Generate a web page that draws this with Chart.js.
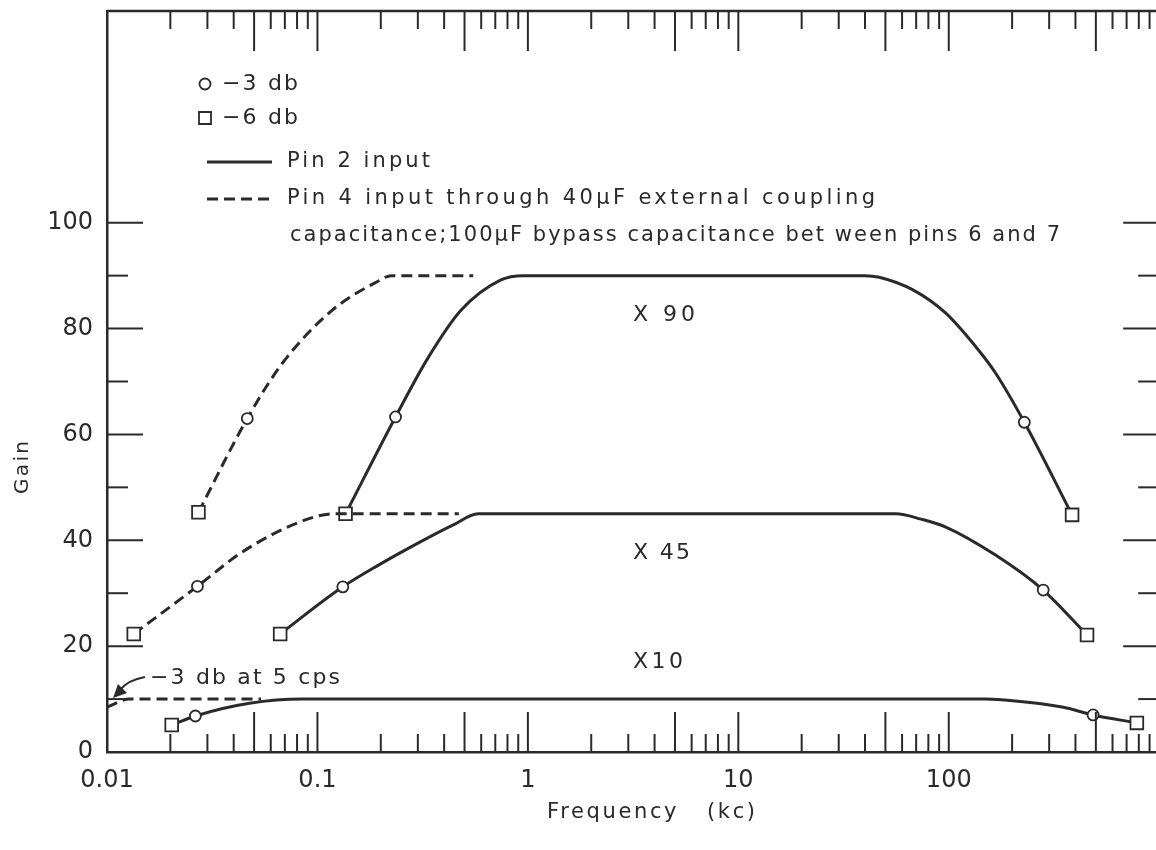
<!DOCTYPE html>
<html>
<head>
<meta charset="utf-8">
<script src="https://cdn.jsdelivr.net/npm/chart.js@4.4.0/dist/chart.umd.min.js"></script>
<style>
  html, body { margin: 0; padding: 0; background: #fff; overflow: hidden; }
  #wrap { width: 1156px; height: 850px; overflow: hidden; position: relative; }
  #chart { position: absolute; left: 0; top: 0; }
</style>
</head>
<body>
<div id="wrap"><canvas id="chart" width="1170" height="850"></canvas></div>
<script>
// ---- data (frequency in kc, gain) ----
// marks: 'ci' = -3 db point, 'sq' = -6 db point, '' = plain curve point

// X 90, pin 4 input (dashed)
const x90DashFreq  = [0.0272, 0.0464, 0.068, 0.117, 0.189, 0.225, 0.55];
const x90DashGain  = [45.3, 63, 73.4, 83.4, 88.7, 90, 90];
const x90DashMarks = ['sq', 'ci', '', '', '', '', ''];

// X 90, pin 2 input (solid)
const x90SolidFreq  = [0.136, 0.235, 0.337, 0.482, 0.745, 0.95, 40, 46.7, 67.6, 96.8, 138.6, 166.8, 228.6, 385.5];
const x90SolidGain  = [45, 63.3, 74.6, 83.5, 89.2, 90, 90, 89.7, 87.3, 82.9, 75.9, 71.6, 62.3, 44.8];
const x90SolidMarks = ['sq', 'ci', '', '', '', '', '', '', '', '', '', '', 'ci', 'sq'];

// X 45, pin 4 input (dashed)
const x45DashFreq  = [0.0134, 0.0269, 0.044, 0.0818, 0.12, 0.47];
const x45DashGain  = [22.3, 31.3, 37.8, 43.4, 45, 45];
const x45DashMarks = ['sq', 'ci', '', '', '', ''];

// X 45, pin 2 input (solid)
const x45SolidFreq  = [0.0665, 0.132, 0.195, 0.302, 0.442, 0.58, 56.1, 73.8, 96.8, 166.8, 281, 454];
const x45SolidGain  = [22.3, 31.2, 35.3, 39.5, 42.9, 45, 45, 44.0, 42.5, 37.2, 30.6, 22.1];
const x45SolidMarks = ['sq', 'ci', '', '', '', '', '', '', '', '', 'ci', 'sq'];

// X 10, pin 4 input (dashed)
const x10DashFreq  = [0.01, 0.0128, 0.054];
const x10DashGain  = [8.5, 10, 10];
const x10DashMarks = ['', '', ''];

// X 10, pin 2 input (solid)
const x10SolidFreq  = [0.0203, 0.0263, 0.0475, 0.085, 150, 201, 346, 485, 783];
const x10SolidGain  = [5.1, 6.8, 9.2, 10, 10, 9.7, 8.5, 7, 5.5];
const x10SolidMarks = ['sq', 'ci', '', '', '', '', '', 'ci', 'sq'];

// axes
const xDecades    = [0.01, 0.1, 1, 10, 100, 1000];
const xTickLabels = ['0.01', '0.1', '1', '10', '100'];
const yTickValues = [0, 20, 40, 60, 80, 100];
const yTickLabels = ['0', '20', '40', '60', '80', '100'];

const INK = '#2a2a2a';
const FONT = '"DejaVu Sans", "Liberation Sans", sans-serif';

// every 1..9 multiple per decade, for the tick marks
const xAllTicks = [];
xDecades.slice(0, -1).forEach(d => {
  for (let m = 1; m <= 9; m++) xAllTicks.push(d * m);
});
xAllTicks.push(xDecades[xDecades.length - 1]);

function series(freq, gain, marks, dashed) {
  return {
    data: freq.map((f, i) => ({ x: f, y: gain[i] })),
    borderColor: INK,
    borderWidth: 3,
    borderDash: dashed ? [11, 6] : [],
    cubicInterpolationMode: 'monotone',
    fill: false,
    pointStyle: marks.map(m => m === 'sq' ? 'rect' : 'circle'),
    pointRadius: marks.map(m => m === 'sq' ? 9 : m === 'ci' ? 5.5 : 0),
    pointBackgroundColor: '#fff',
    pointBorderColor: INK,
    pointBorderWidth: 1.8
  };
}

// text squeezed/stretched to the width it has in the picture
function text(ctx, s, x, y, size, width) {
  ctx.font = size + 'px ' + FONT;
  ctx.letterSpacing = '0px';
  const w = ctx.measureText(s).width;
  const n = [...s].length;
  ctx.letterSpacing = (width && n > 1 ? (width - w) / (n - 1) : 0) + 'px';
  ctx.textAlign = 'left';
  ctx.textBaseline = 'middle';
  ctx.fillText(s, x, y);
  ctx.letterSpacing = '0px';
}

function seg(ctx, x1, y1, x2, y2) {
  ctx.beginPath();
  ctx.moveTo(x1, y1);
  ctx.lineTo(x2, y2);
  ctx.stroke();
}

const framePlugin = {
  id: 'frame',
  afterDraw(chart) {
    const { ctx, chartArea: a, scales: { x, y } } = chart;
    ctx.save();
    ctx.strokeStyle = INK;
    ctx.fillStyle = INK;
    ctx.lineCap = 'butt';

    // top and right frame
    ctx.lineWidth = 2.5;
    seg(ctx, a.left, a.top, a.right, a.top);
    seg(ctx, a.right, a.top, a.right, a.bottom);

    // inward log ticks, bottom and top
    ctx.lineWidth = 2;
    x.ticks.forEach(t => {
      const px = x.getPixelForValue(t.value);
      const m = Math.round(t.value / Math.pow(10, Math.floor(Math.log10(t.value) + 1e-9)));
      const len = (m === 1 || m === 5) ? 40 : 18;
      seg(ctx, px, a.bottom, px, a.bottom - len);
      seg(ctx, px, a.top, px, a.top + len);
    });

    // inward gain ticks, left and right
    y.ticks.forEach(t => {
      if (t.value > 100) return;
      const py = y.getPixelForValue(t.value);
      const len = t.value % 20 === 0 ? 36 : 21;
      seg(ctx, a.left, py, a.left + len, py);
      seg(ctx, a.right, py, a.right - len, py);
    });

    // legend block
    ctx.lineWidth = 1.8;
    ctx.fillStyle = '#fff';
    ctx.beginPath();
    ctx.arc(205, 84, 5.5, 0, Math.PI * 2);
    ctx.fill(); ctx.stroke();
    ctx.beginPath();
    ctx.rect(199, 112, 12, 12);
    ctx.fill(); ctx.stroke();
    ctx.fillStyle = INK;
    text(ctx, '\u22123 db', 222, 84, 22, 76);
    text(ctx, '\u22126 db', 222, 118, 22, 76);

    ctx.lineWidth = 3;
    seg(ctx, 207, 162, 272, 162);
    ctx.setLineDash([11, 6]);
    seg(ctx, 207, 199, 272, 199);
    ctx.setLineDash([]);
    text(ctx, 'Pin 2 input', 287, 162, 21, 143);
    text(ctx, 'Pin 4 input through 40\u03bcF external coupling', 287, 199, 21, 588);
    text(ctx, 'capacitance;100\u03bcF bypass capacitance bet ween pins 6 and 7', 290, 236, 21, 770);

    // curve labels
    text(ctx, 'X 90', 633, 315, 22, 62);
    text(ctx, 'X 45', 633, 553, 22, 57);
    text(ctx, 'X10', 633, 662, 22, 50);

    // -3 db at 5 cps note with arrow
    text(ctx, '\u22123 db at 5 cps', 150, 678, 22, 190);
    ctx.lineWidth = 1.8;
    ctx.beginPath();
    ctx.moveTo(145, 677);
    ctx.quadraticCurveTo(128, 680, 120, 690);
    ctx.stroke();
    ctx.beginPath();
    ctx.moveTo(113, 698);
    ctx.lineTo(118, 684);
    ctx.lineTo(127, 693);
    ctx.closePath();
    ctx.fill();

    // axis titles
    text(ctx, 'Frequency   (kc)', 547, 813, 21, 208);
    ctx.save();
    ctx.translate(23, 468);
    ctx.rotate(-Math.PI / 2);
    text(ctx, 'Gain', -26, 0, 20, 53);
    ctx.restore();

    ctx.restore();
  }
};

new Chart(document.getElementById('chart').getContext('2d'), {
  type: 'line',
  data: {
    datasets: [
      series(x90DashFreq, x90DashGain, x90DashMarks, true),
      series(x45DashFreq, x45DashGain, x45DashMarks, true),
      series(x10DashFreq, x10DashGain, x10DashMarks, true),
      series(x90SolidFreq, x90SolidGain, x90SolidMarks, false),
      series(x45SolidFreq, x45SolidGain, x45SolidMarks, false),
      series(x10SolidFreq, x10SolidGain, x10SolidMarks, false)
    ]
  },
  options: {
    responsive: false,
    animation: false,
    events: [],
    layout: { padding: { top: 11, right: 2, bottom: 0, left: 0 } },
    plugins: {
      legend: { display: false },
      tooltip: { enabled: false }
    },
    scales: {
      x: {
        type: 'logarithmic',
        min: 0.01,
        max: 1000,
        grid: { display: false, drawTicks: false },
        border: { display: true, color: INK, width: 2.5 },
        ticks: {
          autoSkip: false,
          maxRotation: 0,
          color: INK,
          padding: 14,
          font: { family: FONT, size: 24 },
          callback: v => {
            const i = xDecades.indexOf(v);
            return i >= 0 && i < xTickLabels.length ? xTickLabels[i] : '';
          }
        },
        afterBuildTicks: s => { s.ticks = xAllTicks.map(v => ({ value: v })); },
        afterFit: s => { s.height = 98; s.paddingLeft = 0; s.paddingRight = 0; }
      },
      y: {
        type: 'linear',
        min: 0,
        max: 140,
        grid: { display: false, drawTicks: false },
        border: { display: true, color: INK, width: 2.5 },
        ticks: {
          stepSize: 10,
          autoSkip: false,
          color: INK,
          padding: 14,
          font: { family: FONT, size: 24 },
          callback: v => {
            const i = yTickValues.indexOf(v);
            return i >= 0 ? yTickLabels[i] : '';
          }
        },
        afterFit: s => { s.width = 107; s.paddingTop = 0; s.paddingBottom = 0; }
      }
    }
  },
  plugins: [framePlugin]
});
</script>
</body>
</html>
